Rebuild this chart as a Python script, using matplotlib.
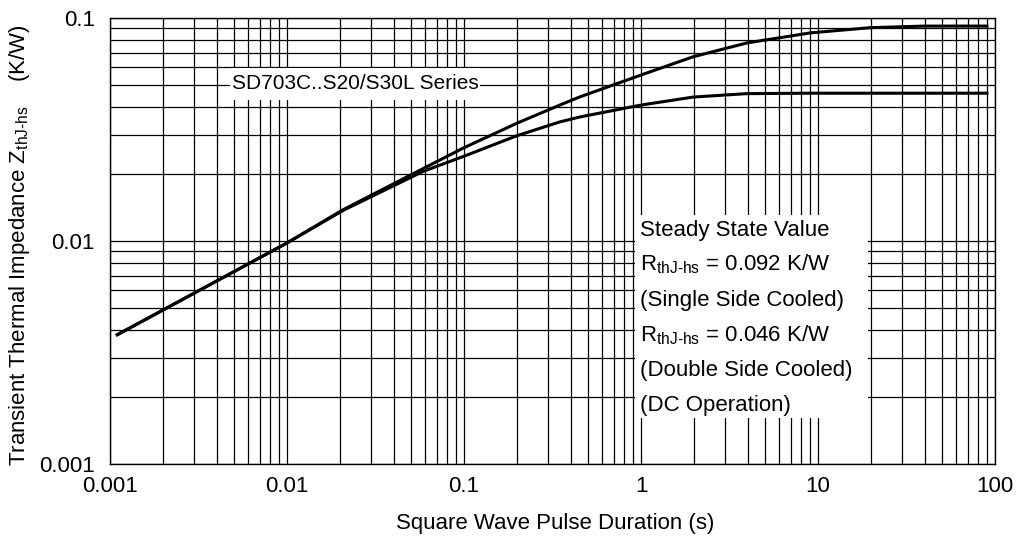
import numpy as np
import matplotlib
matplotlib.use("Agg")
from matplotlib import pyplot as plt
from matplotlib.ticker import LogLocator, FixedLocator, FixedFormatter, NullFormatter
from matplotlib.patches import Rectangle

plt.rcParams['font.family'] = ['Liberation Sans', 'DejaVu Sans']
plt.rcParams['mathtext.fontset'] = 'custom'
plt.rcParams['mathtext.rm'] = 'Liberation Sans'
plt.rcParams['mathtext.it'] = 'Liberation Sans'

# pulse duration (s) and transient impedance (K/W)
pulse = [0.0011, 0.00314, 0.01, 0.0207, 0.0586, 0.1, 0.2, 0.348,
         0.452, 1.0, 1.97, 3.97, 9.0, 19.7, 40.0, 90.0]
z_single = [0.0038, 0.00596, 0.0098, 0.0138, 0.0211, 0.0262, 0.0338,
            0.0407, 0.0443, 0.0555, 0.0670, 0.0773, 0.0857, 0.0905, 0.092, 0.092]
z_double = [0.0038, 0.00596, 0.0098, 0.0137, 0.0205, 0.0240, 0.0297,
            0.0342, 0.0360, 0.0407, 0.0442, 0.0458, 0.0460, 0.0460, 0.046, 0.046]

x_ticks = [0.001, 0.01, 0.1, 1, 10, 100]
x_labels = ["0.001", "0.01", "0.1", "1", "10", "100"]
y_ticks = [0.001, 0.01, 0.1]
y_labels = ["0.001", "0.01", "0.1"]

series_label = "SD703C..S20/S30L Series"
steady_lines = [
    "Steady State Value",
    r"R$_{\mathregular{thJ\text{-}hs}}$ = 0.092 K/W",
    "(Single Side Cooled)",
    r"R$_{\mathregular{thJ\text{-}hs}}$ = 0.046 K/W",
    "(Double Side Cooled)",
    "(DC Operation)",
]

fs = 16
fig = plt.figure(figsize=(10.16, 5.41), dpi=100)
ax = fig.add_axes([110/1016, 1-464/541, 885/1016, 446/541])

ax.plot(pulse, z_single, color="black", lw=2.2, zorder=3)
ax.plot(pulse, z_double, color="black", lw=2.2, zorder=3)

ax.set_xscale("log")
ax.set_yscale("log")
ax.set_xlim(0.001, 100)
ax.set_ylim(0.001, 0.1)

for axis, ticks, labels in [(ax.xaxis, x_ticks, x_labels), (ax.yaxis, y_ticks, y_labels)]:
    axis.set_major_locator(FixedLocator(ticks))
    axis.set_major_formatter(FixedFormatter(labels))
    axis.set_minor_locator(LogLocator(base=10, subs=np.arange(2, 10)))
    axis.set_minor_formatter(NullFormatter())

ax.tick_params(which="both", length=0)
ax.tick_params(axis="x", pad=9, labelsize=fs)
ax.tick_params(axis="y", pad=11, labelsize=fs)
ax.set_axisbelow(True)
ax.grid(which="both", color="black", lw=0.9)
for sp in ax.spines.values():
    sp.set_color("black")
    sp.set_linewidth(1.0)

# white boxes that hide the grid behind the labels
ax.add_patch(Rectangle((0.1356, 0.816), 0.2825, 0.072, transform=ax.transAxes,
                       facecolor="white", edgecolor="none", zorder=1))
ax.text(0.138, 0.854, series_label, transform=ax.transAxes, fontsize=15,
        va="center", ha="left", zorder=4)

ax.add_patch(Rectangle((0.593, 0.103), 0.2635, 0.455, transform=ax.transAxes,
                       facecolor="white", edgecolor="none", zorder=1))
baselines = [0.511, 0.433, 0.354, 0.276, 0.197, 0.119]
for txt, yb in zip(steady_lines, baselines):
    ax.text(0.599, yb, txt, transform=ax.transAxes, fontsize=fs,
            va="baseline", ha="left", zorder=4)

fig.text(555/1016, 1-523/541, "Square Wave Pulse Duration (s)", fontsize=fs,
         ha="center", va="center")
fig.text(20/1016, 1-245/541,
         r"Transient Thermal Impedance Z$_{\mathregular{thJ\text{-}hs}}$    (K/W)",
         fontsize=fs, rotation=90, ha="center", va="center")

fig.savefig("out.png", dpi=100)
